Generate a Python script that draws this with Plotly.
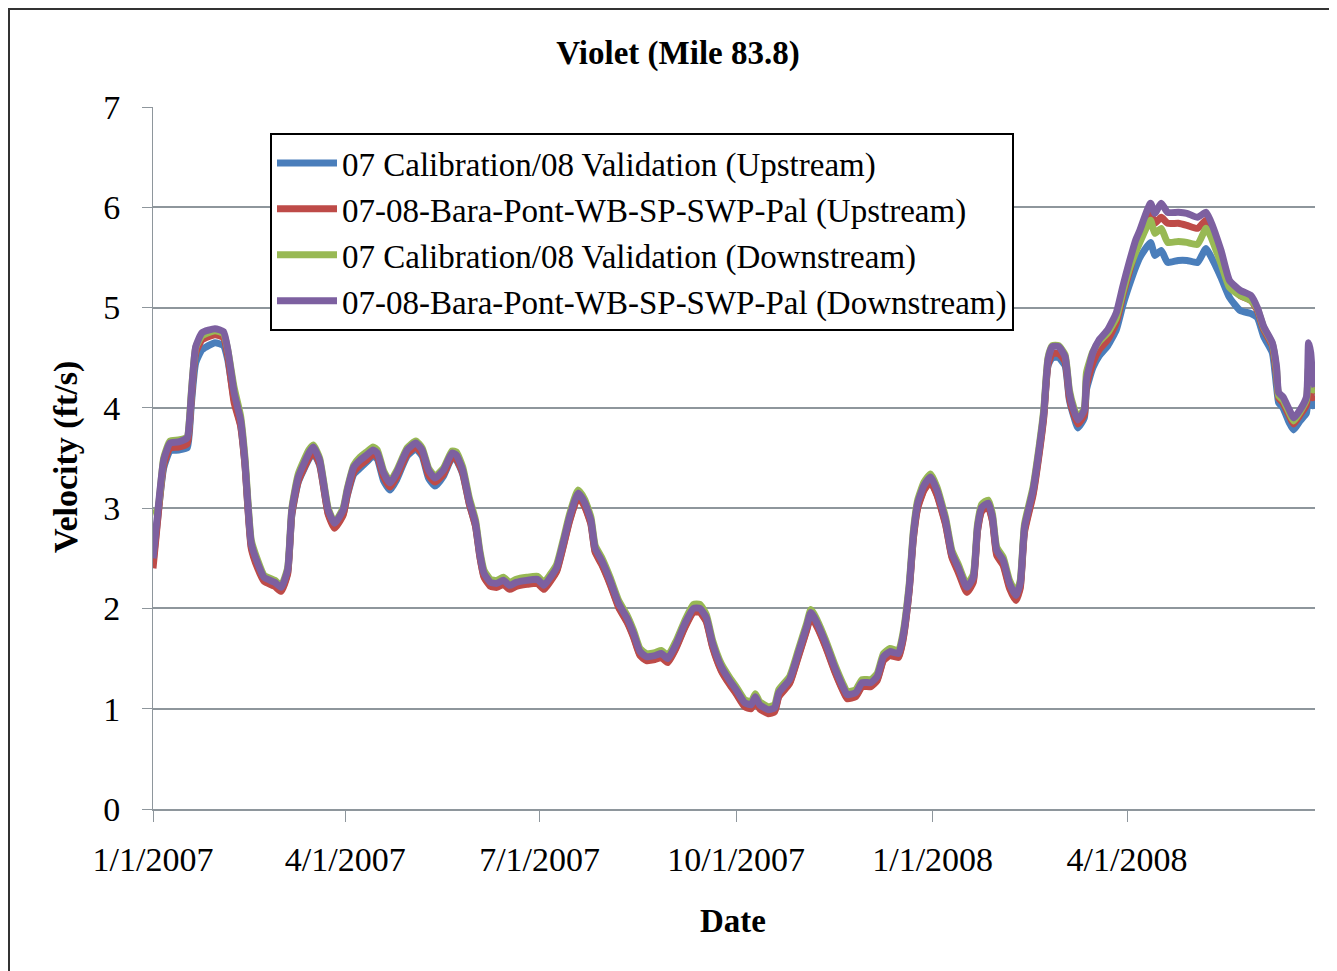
import pandas as pd
import plotly.graph_objects as go

# Day offsets from 1/1/2007 at which values were read
day_offsets = [0, 2, 5, 8, 12, 16, 17, 18, 20, 23, 29, 33, 35, 38, 41, 43, 46, 49, 52, 57,
               60, 63, 65, 68, 73, 75, 78, 82, 85, 89, 91, 94, 97, 100, 103, 105, 108, 111, 114, 119,
               123, 126, 129, 132, 136, 140, 142, 145, 148, 151, 153, 155, 158, 161, 164, 167, 170, 175, 180, 183,
               186, 189, 192, 195, 199, 202, 205, 207, 210, 214, 218, 222, 225, 228, 231, 235, 238, 241, 245, 249,
               253, 256, 259, 262, 266, 270, 273, 277, 280, 282, 284, 288, 291, 293, 298, 302, 306, 308, 311, 315,
               319, 323, 325, 329, 332, 336, 339, 342, 345, 349, 351, 354, 356, 358, 361, 364, 367, 371, 374, 377,
               381, 384, 386, 388, 391, 393, 395, 398, 401, 404, 406, 408, 412, 415, 417, 419, 421, 424, 427, 429,
               431, 433, 436, 437, 440, 443, 447, 451, 454, 457, 460, 462, 467, 469, 472, 475, 480, 484, 489, 493,
               495, 500, 504, 509, 514, 517, 520, 524, 526, 527, 529, 532, 534, 537, 540, 541, 542, 543, 544]

cal_up = [2.45, 2.86, 3.40, 3.57, 3.58, 3.60, 3.75, 4.05, 4.45, 4.58, 4.65, 4.62, 4.48, 4.08, 3.83, 3.45, 2.62, 2.42, 2.29, 2.24,
          2.19, 2.35, 2.93, 3.26, 3.49, 3.55, 3.43, 2.95, 2.82, 2.94, 3.13, 3.34, 3.40, 3.46, 3.52, 3.49, 3.27, 3.18, 3.28, 3.52,
          3.59, 3.52, 3.30, 3.22, 3.32, 3.50, 3.48, 3.34, 3.05, 2.82, 2.52, 2.32, 2.23, 2.22, 2.25, 2.20, 2.23, 2.25, 2.26, 2.20,
          2.28, 2.38, 2.62, 2.88, 3.12, 3.03, 2.85, 2.57, 2.45, 2.25, 2.02, 1.87, 1.72, 1.54, 1.49, 1.50, 1.52, 1.47, 1.62, 1.82,
          1.97, 1.97, 1.88, 1.62, 1.39, 1.25, 1.16, 1.03, 1.01, 1.09, 1.01, 0.96, 0.98, 1.13, 1.26, 1.52, 1.79, 1.93, 1.82, 1.62,
          1.39, 1.19, 1.11, 1.13, 1.23, 1.23, 1.29, 1.49, 1.54, 1.52, 1.68, 2.18, 2.71, 3.01, 3.19, 3.26, 3.14, 2.85, 2.52, 2.38,
          2.18, 2.28, 2.78, 2.98, 3.02, 2.88, 2.55, 2.45, 2.22, 2.10, 2.22, 2.78, 3.15, 3.58, 3.92, 4.42, 4.50, 4.50, 4.42, 4.08,
          3.92, 3.80, 3.90, 4.18, 4.40, 4.52, 4.62, 4.78, 5.02, 5.22, 5.40, 5.50, 5.65, 5.52, 5.57, 5.45, 5.47, 5.47, 5.45, 5.59,
          5.52, 5.30, 5.10, 4.97, 4.94, 4.90, 4.71, 4.55, 4.21, 4.05, 4.00, 3.85, 3.78, 3.87, 3.95, 4.20, 4.15, 4.02, 4.06]

bara_up = [2.40, 2.84, 3.43, 3.60, 3.61, 3.64, 3.80, 4.10, 4.55, 4.68, 4.73, 4.70, 4.52, 4.05, 3.82, 3.44, 2.60, 2.40, 2.27, 2.22,
           2.17, 2.34, 2.94, 3.27, 3.50, 3.56, 3.44, 2.94, 2.80, 2.93, 3.14, 3.36, 3.43, 3.48, 3.54, 3.51, 3.31, 3.21, 3.31, 3.54,
           3.61, 3.54, 3.33, 3.26, 3.34, 3.51, 3.49, 3.35, 3.05, 2.82, 2.52, 2.31, 2.22, 2.21, 2.24, 2.19, 2.22, 2.24, 2.25, 2.19,
           2.27, 2.37, 2.61, 2.87, 3.11, 3.02, 2.84, 2.56, 2.44, 2.24, 2.01, 1.86, 1.71, 1.53, 1.48, 1.49, 1.51, 1.46, 1.61, 1.81,
           1.96, 1.96, 1.87, 1.61, 1.38, 1.24, 1.15, 1.02, 1.00, 1.08, 1.00, 0.95, 0.97, 1.12, 1.25, 1.51, 1.78, 1.92, 1.81, 1.61,
           1.38, 1.18, 1.10, 1.12, 1.22, 1.22, 1.28, 1.48, 1.53, 1.51, 1.67, 2.17, 2.70, 3.00, 3.18, 3.26, 3.13, 2.84, 2.51, 2.36,
           2.16, 2.26, 2.77, 2.97, 3.01, 2.87, 2.53, 2.43, 2.20, 2.08, 2.20, 2.76, 3.13, 3.56, 3.90, 4.43, 4.54, 4.54, 4.46, 4.10,
           3.94, 3.84, 3.93, 4.22, 4.45, 4.58, 4.68, 4.85, 5.12, 5.35, 5.58, 5.70, 5.95, 5.84, 5.90, 5.84, 5.84, 5.82, 5.79, 5.87,
           5.80, 5.50, 5.22, 5.12, 5.07, 4.97, 4.78, 4.62, 4.32, 4.10, 4.05, 3.92, 3.84, 3.93, 4.03, 4.30, 4.25, 4.10, 4.12]

cal_down = [2.95, 2.97, 3.50, 3.67, 3.68, 3.71, 3.87, 4.17, 4.60, 4.72, 4.77, 4.74, 4.58, 4.20, 3.92, 3.52, 2.68, 2.48, 2.33, 2.28,
            2.23, 2.40, 3.00, 3.34, 3.58, 3.63, 3.50, 3.00, 2.86, 3.00, 3.20, 3.43, 3.51, 3.56, 3.61, 3.58, 3.37, 3.27, 3.37, 3.60,
            3.67, 3.60, 3.40, 3.32, 3.40, 3.57, 3.56, 3.41, 3.11, 2.88, 2.58, 2.38, 2.29, 2.28, 2.31, 2.26, 2.29, 2.31, 2.32, 2.26,
            2.34, 2.44, 2.68, 2.94, 3.18, 3.09, 2.91, 2.63, 2.51, 2.31, 2.08, 1.93, 1.78, 1.60, 1.55, 1.56, 1.58, 1.53, 1.68, 1.88,
            2.04, 2.04, 1.94, 1.68, 1.45, 1.31, 1.22, 1.09, 1.07, 1.15, 1.07, 1.02, 1.04, 1.19, 1.32, 1.58, 1.85, 1.99, 1.88, 1.68,
            1.45, 1.25, 1.17, 1.19, 1.29, 1.29, 1.35, 1.55, 1.60, 1.58, 1.74, 2.24, 2.78, 3.08, 3.26, 3.34, 3.21, 2.91, 2.58, 2.44,
            2.24, 2.34, 2.84, 3.04, 3.08, 2.94, 2.61, 2.51, 2.28, 2.16, 2.28, 2.84, 3.21, 3.64, 3.98, 4.50, 4.62, 4.62, 4.53, 4.18,
            4.01, 3.90, 4.00, 4.35, 4.56, 4.66, 4.75, 4.90, 5.15, 5.38, 5.55, 5.65, 5.87, 5.74, 5.79, 5.65, 5.66, 5.65, 5.63, 5.79,
            5.72, 5.44, 5.20, 5.12, 5.07, 4.99, 4.80, 4.64, 4.38, 4.12, 4.08, 3.95, 3.87, 3.96, 4.08, 4.40, 4.35, 4.18, 4.18]

bara_down = [2.50, 2.91, 3.48, 3.65, 3.66, 3.70, 3.85, 4.15, 4.61, 4.75, 4.79, 4.76, 4.58, 4.15, 3.88, 3.48, 2.65, 2.45, 2.31, 2.26,
             2.21, 2.38, 2.98, 3.31, 3.55, 3.61, 3.48, 2.98, 2.85, 2.98, 3.18, 3.41, 3.48, 3.53, 3.58, 3.55, 3.35, 3.25, 3.35, 3.58,
             3.65, 3.58, 3.38, 3.30, 3.38, 3.55, 3.53, 3.38, 3.08, 2.85, 2.55, 2.35, 2.26, 2.25, 2.28, 2.23, 2.26, 2.28, 2.29, 2.23,
             2.31, 2.41, 2.65, 2.91, 3.15, 3.06, 2.88, 2.60, 2.48, 2.28, 2.05, 1.90, 1.75, 1.57, 1.52, 1.53, 1.55, 1.50, 1.65, 1.85,
             2.00, 2.00, 1.91, 1.65, 1.42, 1.28, 1.19, 1.06, 1.04, 1.12, 1.04, 0.99, 1.01, 1.16, 1.29, 1.55, 1.82, 1.96, 1.85, 1.65,
             1.42, 1.22, 1.14, 1.16, 1.26, 1.26, 1.32, 1.52, 1.57, 1.55, 1.71, 2.21, 2.75, 3.05, 3.23, 3.31, 3.18, 2.88, 2.55, 2.41,
             2.21, 2.31, 2.81, 3.01, 3.05, 2.91, 2.58, 2.48, 2.25, 2.13, 2.25, 2.81, 3.18, 3.61, 3.95, 4.48, 4.61, 4.61, 4.51, 4.15,
             3.98, 3.88, 3.98, 4.28, 4.55, 4.68, 4.78, 4.95, 5.21, 5.45, 5.67, 5.77, 6.04, 5.94, 6.04, 5.95, 5.95, 5.94, 5.90, 5.95,
             5.87, 5.57, 5.27, 5.17, 5.12, 5.00, 4.81, 4.65, 4.41, 4.15, 4.11, 3.98, 3.90, 3.98, 4.11, 4.65, 4.55, 4.28, 4.21]

series_names = ["07 Calibration/08 Validation (Upstream)",
                "07-08-Bara-Pont-WB-SP-SWP-Pal (Upstream)",
                "07 Calibration/08 Validation (Downstream)",
                "07-08-Bara-Pont-WB-SP-SWP-Pal (Downstream)"]
series_colors = ["#4A7EBB", "#BE4B48", "#98B954", "#7D60A0"]
tick_dates = ["2007-01-01", "2007-04-01", "2007-07-01", "2007-10-01", "2008-01-01", "2008-04-01"]
tick_labels = ["1/1/2007", "4/1/2007", "7/1/2007", "10/1/2007", "1/1/2008", "4/1/2008"]

dates = pd.Timestamp("2007-01-01") + pd.to_timedelta(day_offsets, unit="D")

FONT = "Liberation Serif"
# The page body has an 8px margin; the figure is sized/positioned to compensate.
W, H = 1329, 963
OFF = 8
PL, PR, PT, PB = 153 - OFF, 1315 - OFF, 107 - OFF, 809 - OFF
PW, PH = PR - PL, PB - PT


def px_x(x):
    return (x - OFF - PL) / PW


def px_y(y):
    return (PB - (y - OFF)) / PH


fig = go.Figure()
for i, (name, vals, col) in enumerate(zip(series_names, [cal_up, bara_up, cal_down, bara_down], series_colors)):
    fig.add_trace(go.Scatter(x=dates, y=vals, name=name, mode="lines",
                             line=dict(color=col, width=7, shape="spline", smoothing=0.5),
                             legendgroup=f"g{i}"))

grid_col = "#8E969C"
fig.update_layout(
    width=W, height=H,
    margin=dict(l=PL, r=W - PR, t=PT, b=H - PB),
    paper_bgcolor="white", plot_bgcolor="white",
    font=dict(family=FONT, size=34, color="black"),
    title=dict(text="<b>Violet (Mile 83.8)</b>", x=(678 - OFF) / W, xref="container", xanchor="center",
               y=1 - (52 - OFF) / H, yref="container", yanchor="middle", font=dict(family=FONT, size=33)),
    showlegend=True,
    legend=dict(x=px_x(270), y=px_y(133), xanchor="left", yanchor="top",
                bgcolor="white", bordercolor="black", borderwidth=2, itemwidth=60,
                font=dict(family=FONT, size=33), tracegroupgap=6, traceorder="normal"),
    xaxis=dict(range=["2007-01-01", "2008-06-28"], tickmode="array", tickvals=tick_dates, ticktext=tick_labels,
               showgrid=False, showline=True, linecolor=grid_col, linewidth=2,
               ticks="outside", ticklen=11, tickcolor=grid_col, tickwidth=1,
               ticklabelstandoff=8, tickfont=dict(size=34), zeroline=False),
    yaxis=dict(range=[0, 7], tickmode="array", tickvals=[0, 1, 2, 3, 4, 5, 6, 7],
               showgrid=True, gridcolor=grid_col, gridwidth=2,
               showline=True, linecolor=grid_col, linewidth=1,
               ticks="outside", ticklen=10, tickcolor=grid_col, tickwidth=1,
               ticklabelstandoff=15, tickfont=dict(size=34), zeroline=False),
    annotations=[
        dict(text="<b>Date</b>", xref="paper", yref="paper", x=px_x(733), y=px_y(921),
             xanchor="center", yanchor="middle", showarrow=False, font=dict(family=FONT, size=33)),
        dict(text="<b>Velocity (ft/s)</b>", xref="paper", yref="paper", x=px_x(66), y=px_y(457),
             xanchor="center", yanchor="middle", textangle=-90, showarrow=False, font=dict(family=FONT, size=34)),
    ],
    shapes=[dict(type="rect", xref="paper", yref="paper",
                 x0=px_x(9), x1=px_x(1350), y0=px_y(990), y1=px_y(9),
                 line=dict(color="#333333", width=2), layer="below")],
)
fig.write_html("out.html")
